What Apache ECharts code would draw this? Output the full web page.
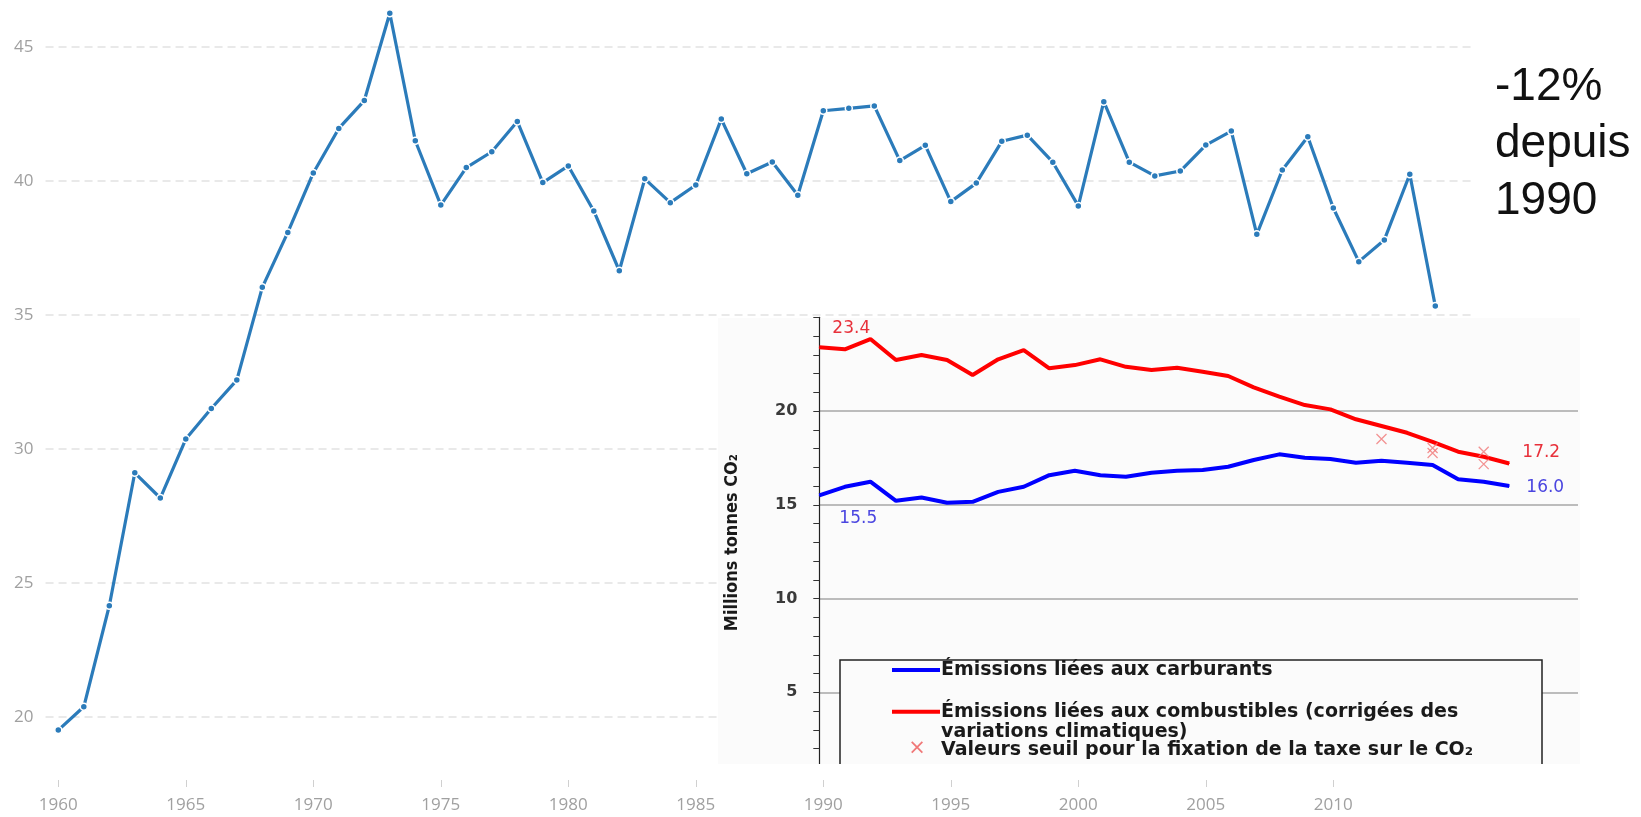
<!DOCTYPE html>
<html>
<head>
<meta charset="utf-8">
<title>Émissions de CO2</title>
<script src="https://cdn.jsdelivr.net/npm/echarts@6.0.0/dist/echarts.min.js"></script>
<style>
  html, body { margin: 0; padding: 0; background: #fff; }
  #chart { width: 1641px; height: 817px; }
</style>
</head>
<body>
<div id="chart"></div>
<script>
  // grande courbe 1960-2014
  const years = [];
  for (let y = 1960; y <= 2015; y++) years.push(String(y));
  const emissions = [
    19.5, 20.37, 24.14, 29.1, 28.16, 30.36, 31.5, 32.56, 36.02, 38.07,
    40.29, 41.95, 42.99, 46.25, 41.49, 39.09, 40.49, 41.08, 42.21, 39.93,
    40.55, 38.87, 36.64, 40.07, 39.18, 39.84, 42.3, 40.26, 40.7, 39.46,
    42.61, 42.7, 42.79, 40.75, 41.32, 39.22, 39.91, 41.47, 41.7, 40.69,
    39.06, 42.95, 40.69, 40.18, 40.36, 41.33, 41.85, 38.0, 40.4, 41.64,
    38.98, 36.98, 37.79, 40.24, 35.32
  ];

  // encart 1990-2017
  const insetYears = [
    1990, 1991, 1992, 1993, 1994, 1995, 1996, 1997, 1998, 1999,
    2000, 2001, 2002, 2003, 2004, 2005, 2006, 2007, 2008, 2009,
    2010, 2011, 2012, 2013, 2014, 2015, 2016, 2017
  ];
  const combustibles = [
    23.4, 23.29, 23.84, 22.72, 22.99, 22.72, 21.92, 22.76, 23.25, 22.28,
    22.45, 22.76, 22.36, 22.19, 22.31, 22.1, 21.87, 21.26, 20.77, 20.32,
    20.09, 19.56, 19.2, 18.84, 18.36, 17.83, 17.56, 17.2
  ];
  const carburants = [
    15.5, 15.96, 16.23, 15.21, 15.39, 15.11, 15.16, 15.69, 15.96, 16.58,
    16.81, 16.58, 16.49, 16.71, 16.81, 16.85, 17.03, 17.39, 17.69, 17.51,
    17.44, 17.24, 17.35, 17.24, 17.12, 16.36, 16.23, 16.0
  ];
  const seuilYears = [2012, 2014, 2014, 2016, 2016];
  const seuilValues = [18.51, 18.03, 17.76, 17.83, 17.17];

  const labelFont = 'DejaVu Sans';
  const legendFont = 'bold 19px "DejaVu Sans"';

  function endLabels(values, color, firstOffset, lastOffset) {
    return values.map((v, i) => {
      const item = { value: [insetYears[i], v] };
      if (i === 0 || i === values.length - 1) {
        item.label = {
          show: true,
          position: 'inside',
          offset: i === 0 ? firstOffset : lastOffset,
          color: color,
          fontSize: 17,
          fontFamily: labelFont,
          formatter: p => p.value[1].toFixed(1)
        };
      }
      return item;
    });
  }

  const chart = echarts.init(document.getElementById('chart'));

  chart.setOption({
    animation: false,
    backgroundColor: '#fff',
    grid: [
      { left: 45.55, right: 167.45, top: -87.3, bottom: -33.7, outerBoundsMode: 'none' },
      { left: 819.3, right: 63, top: 317.3, bottom: 31, outerBoundsMode: 'none' }
    ],
    xAxis: [{
      type: 'category',
      data: years,
      boundaryGap: true,
      offset: -70.7,
      axisLine: { show: false },
      axisTick: {
        show: true,
        alignWithLabel: true,
        length: 7,
        interval: (i, v) => i % 5 === 0 && v !== '2015',
        lineStyle: { color: '#d0d0d0' }
      },
      axisLabel: {
        interval: (i, v) => i % 5 === 0 && v !== '2015',
        margin: 17,
        color: '#a0a0a0',
        fontSize: 17,
        fontFamily: 'Open Sans'
      }
    }, {
      gridIndex: 1,
      type: 'value',
      min: 1990,
      max: 2019.69,
      show: false
    }],
    yAxis: [{
      type: 'value',
      min: 15,
      max: 50,
      interval: 5,
      axisLine: { show: false },
      axisTick: { show: false },
      axisLabel: { color: '#a0a0a0', fontSize: 17, fontFamily: 'Open Sans', margin: 12 },
      splitLine: { lineStyle: { type: [8, 5], color: '#e2e2e2', width: 1.5 } }
    }, {
      gridIndex: 1,
      type: 'value',
      min: 0,
      max: 25,
      interval: 5,
      z: 3,
      name: 'Millions tonnes CO₂',
      nameLocation: 'middle',
      nameGap: 77.6,
      nameRotate: 90,
      nameTextStyle: {
        fontFamily: '"Liberation Sans Narrow", "DejaVu Sans Condensed", sans-serif',
        fontWeight: 'bold',
        fontSize: 18,
        color: '#1a1a1a',
        padding: [0, 0, 0, 18]
      },
      axisLine: { show: true, lineStyle: { color: '#222', width: 1.2 } },
      axisTick: { show: true, length: 6, lineStyle: { color: '#333' } },
      minorTick: { show: true, splitNumber: 5, length: 6, lineStyle: { color: '#333' } },
      axisLabel: {
        formatter: v => (v > 0 && v < 25 ? v : ''),
        color: '#3a3a3a',
        fontWeight: 'bold',
        fontSize: 16,
        fontFamily: labelFont,
        margin: 22
      },
      splitLine: { showMinLine: false, showMaxLine: false, lineStyle: { color: '#bcbcbc', width: 2 } }
    }],
    series: [{
      name: 'Émissions de CO2',
      type: 'line',
      data: emissions,
      symbol: 'circle',
      symbolSize: 7,
      lineStyle: { width: 3.2, color: '#2b7bba' },
      itemStyle: { color: '#2b7bba', borderColor: '#fff', borderWidth: 1.5 }
    }, {
      name: 'Émissions liées aux carburants',
      type: 'line',
      xAxisIndex: 1,
      yAxisIndex: 1,
      z: 4,
      data: endLabels(carburants, '#4a45e0', [39, 23], [36, 2]),
      symbol: 'circle',
      symbolSize: 1,
      lineStyle: { width: 4, color: '#0000ff' },
      itemStyle: { color: '#0000ff' }
    }, {
      name: 'Émissions liées aux combustibles (corrigées des variations climatiques)',
      type: 'line',
      xAxisIndex: 1,
      yAxisIndex: 1,
      z: 4,
      data: endLabels(combustibles, '#e8303a', [32, -19], [32, -11]),
      symbol: 'circle',
      symbolSize: 1,
      lineStyle: { width: 4, color: '#ff0000' },
      itemStyle: { color: '#ff0000' }
    }, {
      name: 'Valeurs seuil pour la fixation de la taxe sur le CO₂',
      type: 'scatter',
      xAxisIndex: 1,
      yAxisIndex: 1,
      z: 4,
      data: seuilYears.map((y, i) => [y, seuilValues[i]]),
      symbol: 'path://M0 0L10 10M10 0L0 10',
      symbolSize: 10,
      itemStyle: { color: 'rgba(0,0,0,0)', borderColor: '#f07878', borderWidth: 1.3 }
    }],
    graphic: [
      // fond de l'encart
      { type: 'rect', z: 1, silent: true, shape: { x: 718, y: 318, width: 862, height: 446 }, style: { fill: '#fbfbfb' } },
      // cadre de la légende
      { type: 'rect', z: 5, silent: true, shape: { x: 840, y: 660, width: 702, height: 115 },
        style: { fill: '#fbfbfb', stroke: '#222', lineWidth: 1.5 } },
      { type: 'line', z: 5, shape: { x1: 892, y1: 670, x2: 940, y2: 670 }, style: { stroke: '#0000ff', lineWidth: 4 } },
      { type: 'text', z: 5, x: 941, y: 670,
        style: { text: 'Émissions liées aux carburants', font: legendFont, fill: '#1a1a1a', verticalAlign: 'middle' } },
      { type: 'line', z: 5, shape: { x1: 892, y1: 711.7, x2: 940, y2: 711.7 }, style: { stroke: '#ff0000', lineWidth: 4 } },
      { type: 'text', z: 5, x: 941, y: 711.7,
        style: { text: 'Émissions liées aux combustibles (corrigées des', font: legendFont, fill: '#1a1a1a', verticalAlign: 'middle' } },
      { type: 'text', z: 5, x: 941, y: 731.7,
        style: { text: 'variations climatiques)', font: legendFont, fill: '#1a1a1a', verticalAlign: 'middle' } },
      { type: 'text', z: 5, x: 917, y: 749,
        style: { text: '×', font: '21px "DejaVu Sans"', fill: '#f07878', align: 'center', verticalAlign: 'middle' } },
      { type: 'text', z: 5, x: 941, y: 750,
        style: { text: 'Valeurs seuil pour la fixation de la taxe sur le CO₂', font: legendFont, fill: '#1a1a1a', verticalAlign: 'middle' } },
      // bord inférieur coupé de l'encart
      { type: 'rect', z: 6, silent: true, shape: { x: 718, y: 764, width: 862, height: 15.5 }, style: { fill: '#fff' } },
      { type: 'rect', z: 6, silent: true, shape: { x: 805, y: 764, width: 16.5, height: 28 }, style: { fill: '#fff' } },
      // annotation
      { type: 'text', z: 6, x: 1495, y: 58.5,
        style: { text: '-12%\ndepuis\n1990', fontSize: 46, fontFamily: '"Liberation Sans", Arial', lineHeight: 57, fill: '#111' } }
    ]
  });
</script>
</body>
</html>
